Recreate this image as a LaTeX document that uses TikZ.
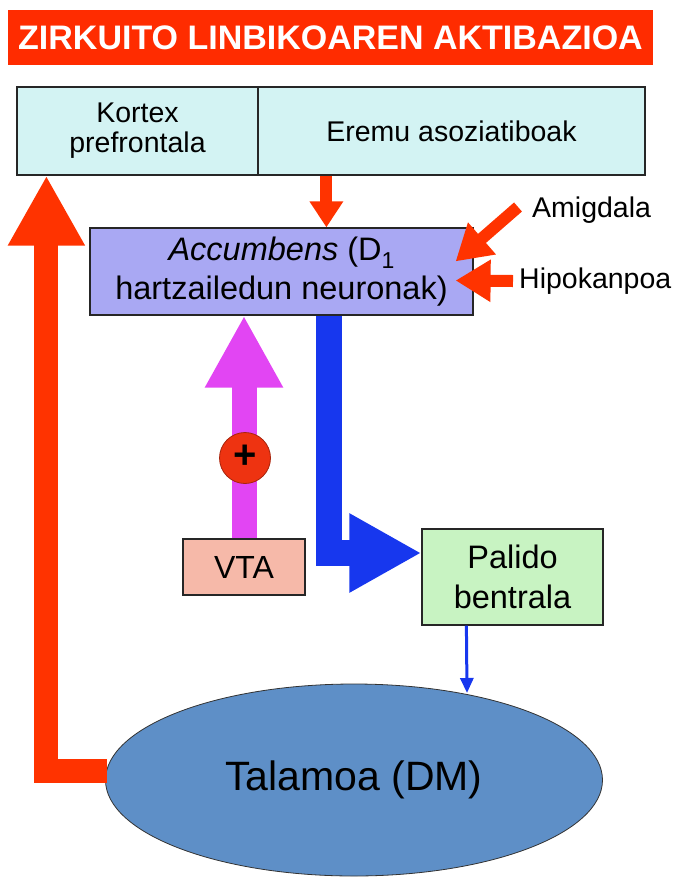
\documentclass[tikz,border=0pt]{standalone}
\usepackage{fontspec}
\setmainfont{Liberation Sans}
\usetikzlibrary{arrows.meta,shapes.geometric,calc}

\definecolor{bannerred}{HTML}{FF2C00}
\definecolor{arrowred}{HTML}{FF3300}
\definecolor{cortexcyan}{HTML}{D3F3F3}
\definecolor{accviolet}{HTML}{A9A8F3}
\definecolor{vtapink}{HTML}{F6B9A9}
\definecolor{palgreen}{HTML}{C8F3C2}
\definecolor{talblue}{HTML}{5E8FC7}
\definecolor{daviolet}{HTML}{E245F3}
\definecolor{gpblue}{HTML}{1737EE}
\definecolor{plusred}{HTML}{EE3311}

\tikzset{
  box/.style={draw=black!85, line width=1.2pt, rectangle, inner sep=0pt, align=center,
              font=\fontsize{28.5}{30}\selectfont},
  sidelabel/.style={anchor=west, inner sep=0pt, font=\fontsize{28.5}{32}\selectfont},
  fatred/.style={draw=arrowred, line width=24pt, -{Triangle[width=72pt,length=70pt]}},
  smallred/.style={draw=arrowred, line width=12pt, -{Triangle[width=32pt,length=26pt]}},
  inred/.style={draw=arrowred, line width=12pt, -{Triangle[width=40pt,length=35pt]}},
  daarrow/.style={draw=daviolet, line width=25pt, -{Triangle[width=73pt,length=72pt]}},
  gparrow/.style={draw=gpblue, line width=26pt, line join=miter, -{Triangle[width=74pt,length=72pt]}},
  thinblue/.style={draw=gpblue, line width=3pt, -{Triangle[width=13pt,length=15pt]}},
}

\begin{document}
\begin{tikzpicture}[x=1pt,y=-1pt]
\useasboundingbox (0,0) rectangle (674,879);

% title banner
\node[fill=bannerred, minimum width=645pt, minimum height=55pt, inner sep=0pt,
      text=white, font=\bfseries\fontsize{34}{38}\selectfont] (title) at (330.5,37.5)
      {ZIRKUITO LINBIKOAREN AKTIBAZIOA};

% cortical boxes
\node[box, fill=cortexcyan, minimum width=241pt, minimum height=88pt] (kortex) at (137.5,131)
      {Kortex\\prefrontala};
\node[box, fill=cortexcyan, minimum width=387pt, minimum height=88pt] (eremu) at (451.5,131)
      {Eremu asoziatiboak};

% nucleus accumbens
\node[box, fill=accviolet, minimum width=383pt, minimum height=87pt,
      font=\fontsize{32.5}{39}\selectfont] (acc) at (281.5,271.5)
      {\textit{Accumbens} (D\raisebox{-8pt}{\fontsize{23}{23}\selectfont 1}\\hartzailedun neuronak)};

% limbic inputs
\node[sidelabel] (amig) at (532,210) {Amigdala};
\node[sidelabel] (hipo) at (519,281) {Hipokanpoa};

% VTA and ventral pallidum
\node[box, fill=vtapink, minimum width=122pt, minimum height=56pt,
      font=\fontsize{32}{36}\selectfont] (vta) at (244,567) {VTA};
\node[box, fill=palgreen, minimum width=181pt, minimum height=96pt,
      font=\fontsize{32.5}{40}\selectfont] (pal) at (512.5,577) {Palido\\bentrala};

% mediodorsal thalamus
\node[ellipse, draw=black!80, line width=0.8pt, fill=talblue, minimum width=497pt,
      minimum height=192pt, inner sep=0pt, font=\fontsize{41}{46}\selectfont] (tal) at (354,780)
      {Talamoa (DM)};

% connectors
\coordinate (eout) at ($(eremu.south west)+(69,0)$);
\draw[smallred] (eout) -- (eout |- acc.north);
\draw[inred] ($(amig.west)+(-14,-3)$) -- ($(acc.north east)+(-18,34)$);
\draw[inred] ($(hipo.west)+(-6,0)$) -- ($(acc.east)+(-18,9)$);
\draw[daarrow] (vta.north) -- (vta.north |- acc.south);
\node[circle, fill=plusred, draw=plusred!70!black, line width=0.8pt, minimum size=51pt,
      inner sep=0pt, font=\bfseries\fontsize{40}{40}\selectfont] (plus) at (245,458) {\raisebox{2pt}{+}};
\coordinate (aout) at ($(acc.south west)+(240,0)$);
\draw[gparrow] (aout) |- ($(pal.west)+(0,-24)$);
\coordinate (pout) at ($(pal.south west)+(45,0)$);
\draw[thinblue] (pout) -- ($(tal.center)+(113,-87)$);
\draw[fatred] ($(tal.west)+(2,-9)$) -| ($(kortex.south west)+(30,0)$);

\end{tikzpicture}
\end{document}
